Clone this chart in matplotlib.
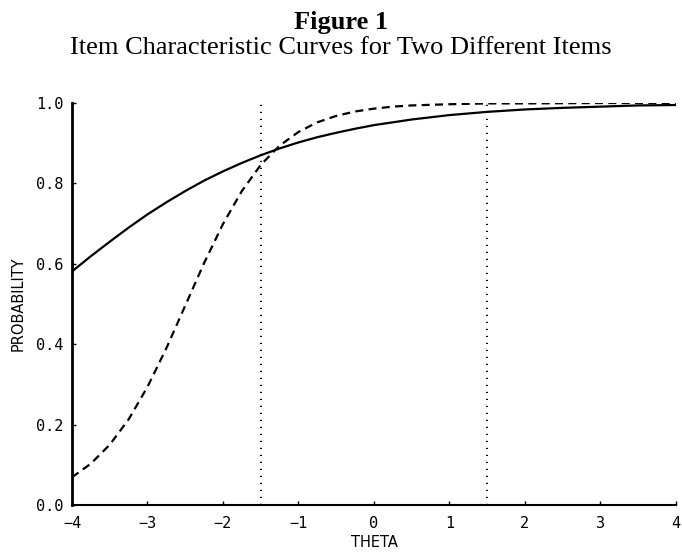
import matplotlib
matplotlib.use("Agg")
import matplotlib.pyplot as plt

# Data
theta_solid = [-4.0, -3.75, -3.5, -3.25, -3.0, -2.75, -2.5, -2.25, -2.0, -1.75, -1.5, -1.25, -1.0,
               -0.75, -0.5, -0.25, 0.0, 0.5, 1.0, 1.5, 2.0, 2.5, 3.0, 3.5, 4.0]
prob_solid = [0.581, 0.619, 0.655, 0.690, 0.723, 0.753, 0.781, 0.807, 0.830, 0.851, 0.870, 0.887, 0.902,
              0.915, 0.926, 0.936, 0.945, 0.959, 0.970, 0.978, 0.984, 0.988, 0.991, 0.994, 0.995]

theta_dashed = [-4.0, -3.75, -3.5, -3.25, -3.0, -2.75, -2.5, -2.25, -2.0, -1.75, -1.5, -1.25, -1.0,
                -0.75, -0.5, -0.25, 0.0, 0.25, 0.5, 1.0, 1.5, 2.0, 3.0, 4.0]
prob_dashed = [0.069, 0.103, 0.150, 0.213, 0.294, 0.390, 0.496, 0.602, 0.699, 0.781, 0.846, 0.894, 0.928,
               0.952, 0.968, 0.979, 0.986, 0.991, 0.994, 0.997, 0.999, 0.999, 1.0, 1.0]

ref_lines = [-1.5, 1.5]
xticks = [-4, -3, -2, -1, 0, 1, 2, 3, 4]
yticks = [0.0, 0.2, 0.4, 0.6, 0.8, 1.0]
ytick_labels = ["0.0", "0.2", "0.4", "0.6", "0.8", "1.0"]

fig = plt.figure(figsize=(6.82, 5.53), dpi=100)
ax = fig.add_axes([0.1056, 0.0868, 0.8854, 0.7269])

ax.plot(theta_solid, prob_solid, color="black", lw=1.6, solid_joinstyle="round")
ax.plot(theta_dashed, prob_dashed, color="black", lw=1.6, dashes=(3.6, 2.4))
for xv in ref_lines:
    ax.plot([xv, xv], [0.0, 1.0], color="black", lw=1.4, linestyle=(0, (0.6, 3.0)))

ax.set_xlim(-4, 4)
ax.set_ylim(0, 1.0)
ax.set_xticks(xticks)
ax.set_xticklabels([str(t).replace("-", "\u2212") for t in xticks])
ax.set_yticks(yticks)
ax.set_yticklabels(ytick_labels)

for s in ["top", "right"]:
    ax.spines[s].set_visible(False)
ax.spines["left"].set_linewidth(2.0)
ax.spines["bottom"].set_linewidth(1.5)
ax.tick_params(direction="in", length=3, width=1, labelsize=11)
ax.tick_params(axis="y", pad=6)
ax.tick_params(axis="x", pad=8)
for lab in ax.get_xticklabels() + ax.get_yticklabels():
    lab.set_family("DejaVu Sans Mono")

ax.set_xlabel("THETA", family="DejaVu Sans", fontsize=10.5, labelpad=3)
ax.set_ylabel("PROBABILITY", family="DejaVu Sans", fontsize=10.5, labelpad=8)

fig.text(0.5, 0.960, "Figure 1", ha="center", va="center", family="Liberation Serif",
         fontsize=19, fontweight="bold")
fig.text(0.5, 0.913, "Item Characteristic Curves for Two Different Items", ha="center",
         va="center", family="Liberation Serif", fontsize=19)

fig.savefig("out.png", dpi=100)
